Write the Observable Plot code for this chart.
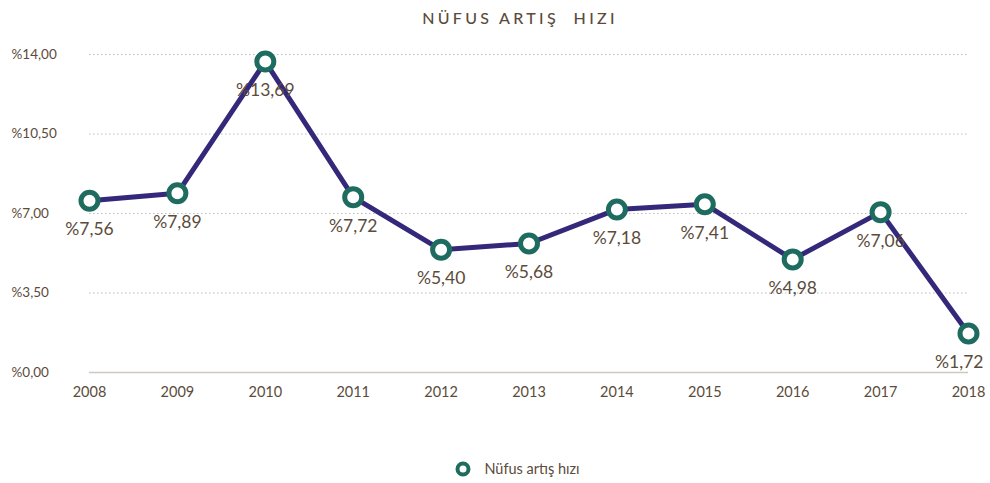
<!DOCTYPE html>
<html>
<head>
<meta charset="utf-8">
<script src="https://cdn.jsdelivr.net/npm/d3@7"></script>
<script src="https://cdn.jsdelivr.net/npm/@observablehq/plot@0.6"></script>
<style>
  html, body { margin: 0; padding: 0; background: #fff; }
  body { width: 990px; font-family: Lato, "Open Sans", sans-serif; color: #5b4b3b; }
  #title { height: 36px; line-height: 36px; text-align: center; font-size: 16px; letter-spacing: 3.3px; font-weight: 500; color: #5b4b3b; white-space: pre; padding-left: 50px; box-sizing: border-box; }
  #legend { height: 47px; display: flex; justify-content: center; align-items: center; font-size: 14.5px; color: #5b4b3b; box-sizing: border-box; padding-top: 18px; padding-left: 44px; }
  #legend svg { margin-right: 12px; }
</style>
</head>
<body>
<div id="title">NÜFUS ARTIŞ  HIZI</div>
<div id="chart"></div>
<div id="legend"><svg width="18" height="18"><circle cx="9" cy="9" r="5.5" fill="#fff" stroke="#1e6b60" stroke-width="4"></circle></svg><span>Nüfus artış hızı</span></div>
<script>
const years = [2008, 2009, 2010, 2011, 2012, 2013, 2014, 2015, 2016, 2017, 2018];
const rates = [7.56, 7.89, 13.69, 7.72, 5.40, 5.68, 7.18, 7.41, 4.98, 7.06, 1.72];
const yTicks = [0, 3.5, 7, 10.5, 14];
const seriesName = "Nüfus artış hızı";

const data = years.map((y, i) => ({year: y, rate: rates[i]}));
const pct = v => "%" + d3.format(".2f")(v).replace(".", ",");
const lastYear = years[years.length - 1];

const chart = Plot.plot({
  width: 990,
  height: 400,
  marginTop: 18,
  marginBottom: 64,
  marginLeft: 89,
  marginRight: 22,
  style: {fontFamily: "Lato, 'Open Sans', sans-serif", color: "#5b4b3b", background: "#fff"},
  x: {type: "point", domain: years, padding: 0, round: false},
  y: {domain: [0, 14]},
  marks: [
    Plot.ruleY(yTicks.filter(d => d > 0), {stroke: "#bbb", strokeDasharray: "1.5,2.5", strokeWidth: 1}),
    Plot.ruleY([0], {stroke: "#cfc8bd", strokeWidth: 1.5}),
    Plot.axisX({ticks: years, tickSize: 0, tickPadding: 14, fontSize: 14.5, tickFormat: d => String(d), label: null, fill: "#5b4b3b"}),
    Plot.axisY({ticks: yTicks, tickSize: 0, tickPadding: 0, textAnchor: "start", dx: -78, fontSize: 13.5, tickFormat: pct, label: null, fill: "#5b4b3b"}),
    Plot.line(data, {x: "year", y: "rate", stroke: "#34287a", strokeWidth: 5, strokeLinejoin: "round"}),
    Plot.dot(data, {x: "year", y: "rate", r: 8.5, fill: "#fff", stroke: "#1e6b60", strokeWidth: 5, title: d => seriesName + ": " + pct(d.rate)}),
    Plot.text(data.filter(d => d.year !== lastYear), {x: "year", y: "rate", text: d => pct(d.rate), dy: 29, fontSize: 17.5, fill: "#5b4b3b"}),
    Plot.text(data.filter(d => d.year === lastYear), {x: "year", y: "rate", text: d => pct(d.rate), dy: 29, dx: 15, textAnchor: "end", fontSize: 17.5, fill: "#5b4b3b"})
  ]
});
document.getElementById("chart").appendChild(chart);
</script>
</body>
</html>
